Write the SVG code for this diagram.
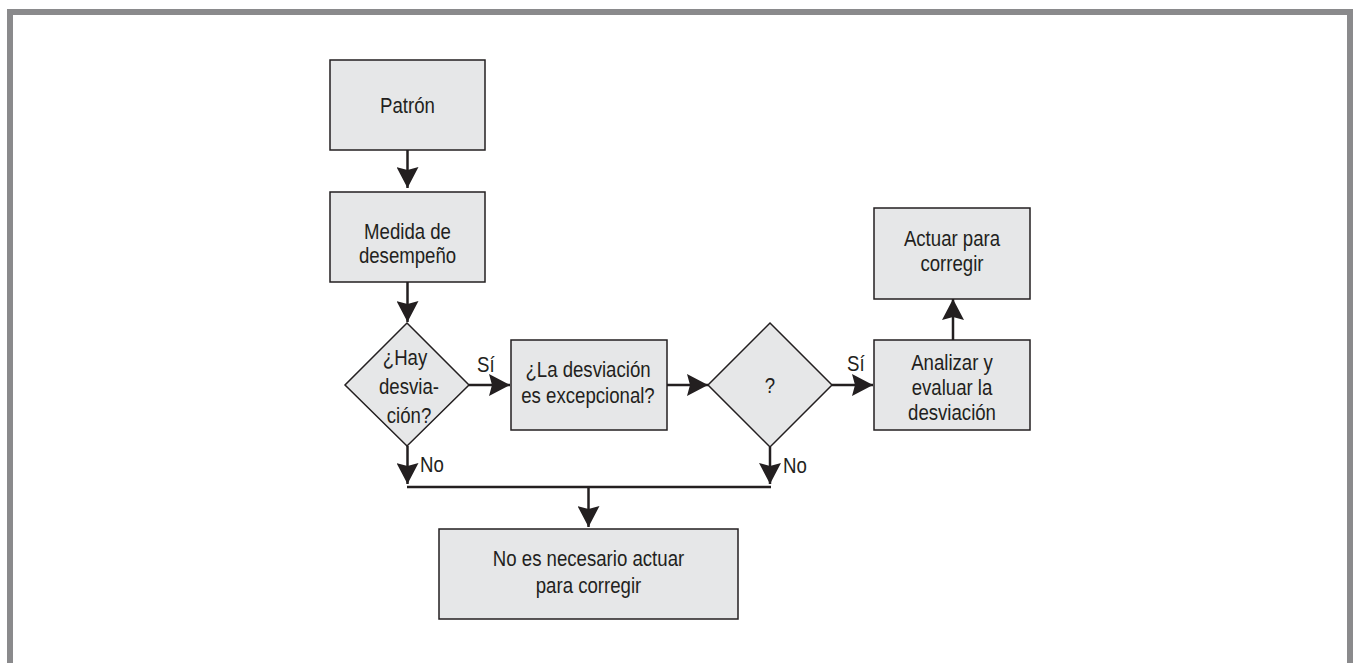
<svg xmlns="http://www.w3.org/2000/svg" width="1353" height="663" viewBox="0 0 1353 663">
<style>
.box{fill:#e6e7e8;stroke:#231f20;stroke-width:1.5}
.t{font-family:"Liberation Sans",Arial,sans-serif;font-size:23px;fill:#231f20;text-anchor:middle}
.lbl{font-family:"Liberation Sans",Arial,sans-serif;font-size:23px;fill:#231f20}
.c{stroke:#231f20;stroke-width:2.5;fill:none}
</style>
<defs>
<marker id="ah" viewBox="0 0 22 22" markerWidth="22" markerHeight="22" refX="21" refY="11" orient="auto" markerUnits="userSpaceOnUse">
<path d="M0,0 L21,11 L0,22 L3,11 Z" fill="#231f20"/>
</marker>
</defs>
<rect width="1353" height="663" fill="#fff"/>
<path d="M10,663 V12 H1350 V663" fill="none" stroke="#8a8a8c" stroke-width="6"/>
<g id="connectors">
<line class="c" x1="407.5" y1="150" x2="407.5" y2="188" marker-end="url(#ah)"/>
<line class="c" x1="407.5" y1="282" x2="407.5" y2="322" marker-end="url(#ah)"/>
<line class="c" x1="469" y1="385" x2="510" y2="385" marker-end="url(#ah)"/>
<line class="c" x1="667" y1="385" x2="708" y2="385" marker-end="url(#ah)"/>
<line class="c" x1="832" y1="385" x2="873" y2="385" marker-end="url(#ah)"/>
<line class="c" x1="953" y1="340" x2="953" y2="299" marker-end="url(#ah)"/>
<line class="c" x1="407.5" y1="446" x2="407.5" y2="484" marker-end="url(#ah)"/>
<line class="c" x1="770" y1="447" x2="770" y2="484" marker-end="url(#ah)"/>
<line class="c" x1="407" y1="487" x2="771" y2="487" stroke-width="3"/>
<line class="c" x1="588.5" y1="487" x2="588.5" y2="527" marker-end="url(#ah)"/>
<g transform="translate(477,372) scale(0.81,1)"><text class="lbl" x="0" y="0">Sí</text></g>
<g transform="translate(847,371) scale(0.81,1)"><text class="lbl" x="0" y="0">Sí</text></g>
<g transform="translate(420,472) scale(0.81,1)"><text class="lbl" x="0" y="0">No</text></g>
<g transform="translate(783,473) scale(0.81,1)"><text class="lbl" x="0" y="0">No</text></g>
</g>
<g id="patron">
<rect class="box" x="330" y="60" width="155" height="90"/>
<g transform="translate(407.5,0) scale(0.81,1)"><text class="t" x="0" y="113">Patrón</text></g>
</g>
<g id="medida">
<rect class="box" x="330" y="192" width="155" height="90"/>
<g transform="translate(407.5,0) scale(0.81,1)"><text class="t" x="0" y="239">Medida de</text><text class="t" x="0" y="263">desempeño</text></g>
</g>
<g id="hay-desviacion">
<polygon class="box" points="407,323 469,385 407,446 345,385"/>
<g transform="translate(405,0) scale(0.81,1)"><text class="t" x="0" y="365">¿Hay</text></g>
<g transform="translate(409,0) scale(0.81,1)"><text class="t" x="0" y="394">desvia-</text><text class="t" x="0" y="423">ción?</text></g>
</g>
<g id="excepcional">
<rect class="box" x="511" y="340" width="156" height="90"/>
<g transform="translate(588,0) scale(0.81,1)"><text class="t" x="0" y="377">¿La desviación</text><text class="t" x="0" y="403">es excepcional?</text></g>
</g>
<g id="pregunta">
<polygon class="box" points="770,323 832,385 770,447 708,385"/>
<g transform="translate(770,0) scale(0.81,1)"><text class="t" x="0" y="393">?</text></g>
</g>
<g id="analizar">
<rect class="box" x="874" y="340" width="156" height="90"/>
<g transform="translate(952,0) scale(0.81,1)"><text class="t" x="0" y="370">Analizar y</text><text class="t" x="0" y="395">evaluar la</text><text class="t" x="0" y="420">desviación</text></g>
</g>
<g id="actuar">
<rect class="box" x="874" y="208" width="156" height="91"/>
<g transform="translate(952,0) scale(0.81,1)"><text class="t" x="0" y="246">Actuar para</text><text class="t" x="0" y="271">corregir</text></g>
</g>
<g id="no-necesario">
<rect class="box" x="439" y="529" width="299" height="90"/>
<g transform="translate(588.5,0) scale(0.81,1)"><text class="t" x="0" y="566">No es necesario actuar</text><text class="t" x="0" y="593">para corregir</text></g>
</g>
</svg>
